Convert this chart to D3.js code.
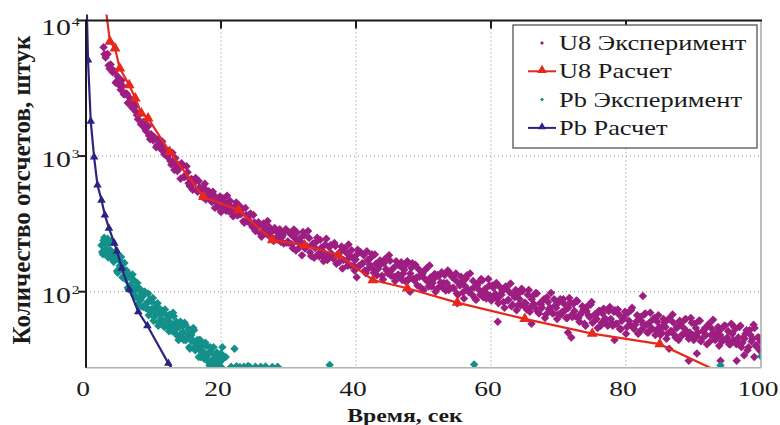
<!DOCTYPE html>
<html>
<head>
<meta charset="utf-8">
<script src="https://cdn.jsdelivr.net/npm/d3@7"></script>
<style>
  body { margin: 0; background: #fff; }
  text { font-family: "Liberation Serif", "Times New Roman", serif; fill: #1a1a1a; }
</style>
</head>
<body>
<div id="visual"></div>
<script>
// U8 experiment: [time, count]
const u8Exp = [
[2.6,6360],[2.9,5330],[3.2,5670],[3.5,4400],[3.8,4400],[4.1,4200],[4.4,3470],[4.7,3870],[5.0,3300],[5.3,3610],
[5.6,2860],[5.9,2890],[6.2,2460],[6.5,2680],[6.8,2290],[7.1,2450],[7.4,2120],[7.7,1870],[8.0,2090],[8.3,1710],
[8.6,1790],[8.9,1530],[9.2,1670],[9.5,1330],[9.8,1390],[10.1,1370],[10.4,1160],[10.7,1330],[11.0,1150],[11.3,1280],
[11.6,1030],[11.9,1060],[12.2,1090],[12.5,920],[12.8,1060],[13.1,790],[13.4,855],[13.7,860],[14.0,680],[14.3,840],
[14.6,705],[14.9,840],[15.2,630],[15.5,670],[15.8,565],[16.1,665],[16.4,560],[16.7,655],[17.0,565],[17.3,500],
[17.6,625],[17.9,500],[18.2,550],[18.5,470],[18.8,545],[19.1,415],[19.4,462],[19.7,480],[20.0,387],[20.3,488],
[20.6,420],[20.9,510],[21.2,390],[21.5,422],[21.8,360],[22.1,430],[22.4,366],[22.7,433],[23.0,376],[23.3,331],
[23.6,415],[23.9,330],[24.2,365],[24.5,313],[24.8,368],[25.1,280],[25.4,308],[25.7,316],[26.0,254],[26.3,319],
[26.6,275],[26.9,332],[27.2,255],[27.5,275],[27.8,236],[28.1,282],[28.4,243],[28.7,289],[29.0,252],[29.3,227],
[29.6,289],[29.9,234],[30.2,273],[30.5,224],[30.8,287],[31.1,201],[31.4,234],[31.7,248],[32.0,186],[32.3,261],
[32.6,214],[32.9,280],[33.2,195],[33.5,220],[33.8,178],[34.1,232],[34.4,190],[34.7,241],[35.0,200],[35.3,176],
[35.6,246],[35.9,184],[36.2,220],[36.5,180],[36.8,229],[37.1,161],[37.4,187],[37.7,198],[38.0,148],[38.3,208],
[38.6,170],[38.9,223],[39.2,156],[39.5,177],[39.8,143],[40.1,187],[40.4,154],[40.7,195],[41.0,162],[41.3,143],
[41.6,199],[41.9,149],[42.2,178],[42.5,147],[42.8,188],[43.1,132],[43.4,154],[43.7,164],[44.0,123],[44.3,174],
[44.6,142],[44.9,186],[45.2,131],[45.5,149],[45.8,120],[46.1,158],[46.4,129],[46.7,165],[47.0,136],[47.3,120],
[47.6,168],[47.9,126],[48.2,150],[48.5,124],[48.8,158],[49.1,111],[49.4,129],[49.7,137],[50.0,103],[50.3,145],
[50.6,119],[50.9,156],[51.2,109],[51.5,124],[51.8,100],[52.1,133],[52.4,109],[52.7,139],[53.0,116],[53.3,102],
[53.6,143],[53.9,107],[54.2,129],[54.5,106],[54.8,136],[55.1,95],[55.4,111],[55.7,118],[56.0,89],[56.3,125],
[56.6,103],[56.9,136],[57.2,95],[57.5,108],[57.8,87],[58.1,116],[58.4,95],[58.7,121],[59.0,100],[59.3,89],
[59.6,124],[59.9,93],[60.2,111],[60.5,91],[60.8,116],[61.1,82],[61.4,95],[61.7,101],[62.0,76],[62.3,107],
[62.6,87],[62.9,115],[63.2,80],[63.5,91],[63.8,73],[64.1,97],[64.4,79],[64.7,101],[65.0,83],[65.3,74],
[65.6,103],[65.9,77],[66.2,93],[66.5,76],[66.8,97],[67.1,69],[67.4,80],[67.7,86],[68.0,64],[68.3,91],
[68.6,74],[68.9,98],[69.2,69],[69.5,79],[69.8,63],[70.1,84],[70.4,68],[70.7,88],[71.0,73],[71.3,64],
[71.6,90],[71.9,67],[72.2,81],[72.5,66],[72.8,85],[73.1,60],[73.4,70],[73.7,74],[74.0,56],[74.3,78],
[74.6,65],[74.9,84],[75.2,60],[75.5,67],[75.8,54],[76.1,72],[76.4,59],[76.7,75],[77.0,63],[77.3,56],
[77.6,77],[77.9,59],[78.2,71],[78.5,58],[78.8,74],[79.1,53],[79.4,61],[79.7,65],[80.0,49],[80.3,70],
[80.6,57],[80.9,76],[81.2,53],[81.5,60],[81.8,49],[82.1,65],[82.4,53],[82.7,68],[83.0,57],[83.3,50],
[83.6,70],[83.9,53],[84.2,64],[84.5,52],[84.8,67],[85.1,48],[85.4,55],[85.7,59],[86.0,45],[86.3,63],
[86.6,51],[86.9,68],[87.2,48],[87.5,54],[87.8,44],[88.1,58],[88.4,48],[88.7,62],[89.0,51],[89.3,45],
[89.6,64],[89.9,48],[90.2,58],[90.5,47],[90.8,61],[91.1,43],[91.4,51],[91.7,54],[92.0,41],[92.3,58],
[92.6,48],[92.9,62],[93.2,44],[93.5,50],[93.8,40],[94.1,53],[94.4,44],[94.7,56],[95.0,46],[95.3,41],
[95.6,58],[95.9,44],[96.2,53],[96.5,43],[96.8,55],[97.1,39],[97.4,46],[97.7,49],[98.0,37],[98.3,52],
[98.6,43],[98.9,57],[99.2,40],[99.5,46],[99.8,37],
[35.2,168],[40.1,128],[48.0,100],[55.0,82],[61.0,60],[66.0,58],[71.4,50],[71.9,46],[78.3,44],[82.5,93],
[86.4,38],[89.3,31],[90.5,35],[94.0,31],[96.4,31],[97.5,34],[99.0,33]
];

// U8 experiment, interleaved readings
const u8ExpMid = [
[2.75,5630],[3.05,5600],[3.35,4660],[3.65,4730],[3.95,4150],[4.25,4200],[4.55,3550],[4.85,3580],[5.15,3080],[5.45,3290],
[5.75,2860],[6.05,2880],[6.35,2490],[6.65,2550],[6.95,2250],[7.25,2310],[7.55,2010],[7.85,2020],[8.15,1720],[8.45,1780],
[8.75,1590],[9.05,1630],[9.35,1410],[9.65,1450],[9.95,1310],[10.25,1360],[10.55,1200],[10.85,1250],[11.15,1120],[11.45,1160],
[11.75,1050],
[12.05,989],[12.35,1049],[12.65,865],[12.95,932],[13.25,966],[13.55,777],[13.85,813],[14.15,884],[14.45,703],[14.75,708],
[15.05,760],[15.35,601],[15.65,678],[15.95,624],[16.25,689],[16.55,545],[16.85,589],[17.15,540],[17.45,585],[17.75,479],
[18.05,543],[18.35,497],[18.65,458],[18.95,514],[19.25,465],[19.55,422],[19.85,503],[20.15,429],[20.45,467],[20.75,396],
[21.05,441],[21.35,467],[21.65,385],[21.95,410],[22.25,454],[22.55,367],[22.85,375],[23.15,407],[23.45,323],[23.75,367],
[24.05,340],[24.35,377],[24.65,300],[24.95,324],[25.25,299],[25.55,325],[25.85,267],[26.15,307],[26.45,285],[26.75,266],
[27.05,304],[27.35,275],[27.65,248],[27.95,295],[28.25,252],[28.55,275],[28.85,233],[29.15,261],[29.45,278],[29.75,230],
[30.05,230],[30.35,264],[30.65,209],[30.95,248],[31.25,273],[31.55,210],[31.85,233],[32.15,276],[32.45,208],[32.75,216],
[33.05,249],[33.35,183],[33.65,228],[33.95,210],[34.25,250],[34.55,182],[34.85,211],[35.15,193],[35.45,223],[35.75,171],
[36.05,213],[36.35,191],[36.65,175],[36.95,217],[37.25,188],[37.55,166],[37.85,215],[38.15,171],[38.45,196],[38.75,155],
[39.05,183],[39.35,202],[39.65,156],[39.95,173],[40.25,204],[40.55,155],[40.85,161],[41.15,186],[41.45,137],[41.75,171],
[42.05,158],[42.35,189],[42.65,138],[42.95,161],[43.25,147],[43.55,170],[43.85,131],[44.15,163],[44.45,147],[44.75,136],
[45.05,169],[45.35,146],[45.65,129],[45.95,168],[46.25,134],[46.55,154],[46.85,122],[47.15,145],[47.45,159],[47.75,122],
[48.05,136],[48.35,162],[48.65,121],[48.95,127],[49.25,147],[49.55,108],[49.85,135],[50.15,125],[50.45,149],[50.75,109],
[51.05,127],[51.35,116],[51.65,135],[51.95,104],[52.25,130],[52.55,117],[52.85,107],[53.15,133],[53.45,116],[53.75,103],
[54.05,135],[54.35,107],[54.65,123],[54.95,97],[55.25,115],[55.55,129],[55.85,99],[56.15,110],[56.45,132],[56.75,99],
[57.05,104],[57.35,120],[57.65,89],[57.95,111],[58.25,103],[58.55,124],[58.85,91],[59.15,105],[59.45,96],[59.75,111],
[60.05,86],[60.35,107],[60.65,96],[60.95,88],[61.25,109],[61.55,95],[61.85,84],[62.15,109],[62.45,86],[62.75,99],
[63.05,78],[63.35,94],[63.65,103],[63.95,79],[64.25,88],[64.55,105],[64.85,79],[65.15,82],[65.45,95],[65.75,71],
[66.05,88],[66.35,81],[66.65,98],[66.95,71],[67.25,82],[67.55,76],[67.85,88],[68.15,68],[68.45,84],[68.75,76],
[69.05,70],[69.35,88],[69.65,76],[69.95,68],[70.25,88],[70.55,71],[70.85,81],[71.15,64],[71.45,76],[71.75,84],
[72.05,65],[72.35,72],[72.65,86],[72.95,64],[73.25,68],[73.55,78],[73.85,58],[74.15,72],[74.45,67],[74.75,80],
[75.05,59],[75.35,68],[75.65,63],[75.95,72],[76.25,56],[76.55,69],[76.85,63],[77.15,58],[77.45,72],[77.75,63],
[78.05,56],[78.35,73],[78.65,58],[78.95,68],[79.25,53],[79.55,63],[79.85,71],[80.15,55],[80.45,61],[80.75,73],
[81.05,55],[81.35,57],[81.65,67],[81.95,50],[82.25,61],[82.55,57],[82.85,69],[83.15,50],[83.45,59],[83.75,54],
[84.05,63],[84.35,48],[84.65,60],[84.95,55],[85.25,50],[85.55,63],[85.85,55],[86.15,49],[86.45,63],[86.75,51],
[87.05,59],[87.35,46],[87.65,55],[87.95,61],[88.25,48],[88.55,54],[88.85,63],[89.15,48],[89.45,50],[89.75,59],
[90.05,44],[90.35,54],[90.65,50],[90.95,61],[91.25,45],[91.55,52],[91.85,48],[92.15,56],[92.45,43],[92.75,53],
[93.05,48],[93.35,45],[93.65,55],[93.95,48],[94.25,43],[94.55,56],[94.85,44],[95.15,51],[95.45,41],[95.75,49],
[96.05,55],[96.35,41],[96.65,46],[96.95,56],[97.25,42],[97.55,45],[97.85,52],[98.15,39],[98.45,48],[98.75,45],
[99.05,54],[99.35,40],[99.65,46],[99.95,43]
];

// U8 calculation
const u8Calc = [
[2.9,12500],[3.55,6980],[4.3,6230],[5.0,4440],[6.4,3340],[7.3,2670],[8.2,2065],[9.2,1900],[12.4,1076],
[17.4,500],[22.6,399],[27.6,240],[32.4,220],[37.4,186],[42.5,122],[47.6,106],[55,83],[65,63],[75,49],[85,41],[95,24]
];

// Pb experiment
const pbExp = [
[2.3,220],[2.5,189],[2.7,250],[2.9,205],[3.1,221],[3.3,179],[3.5,234],[3.7,190],[3.9,232],[4.1,166],
[4.3,178],[4.5,184],[4.7,138],[4.9,179],[5.1,146],[5.3,164],[5.5,127],[5.7,163],[5.9,123],[6.1,131],
[6.3,104],[6.5,133],[6.7,108],[6.9,134],[7.1,96],[7.3,104],[7.5,108],[7.7,81],[7.9,106],[8.1,87],
[8.3,98],[8.5,77],[8.7,100],[8.9,77],[9.1,83],[9.3,67],[9.5,88],[9.7,72],[9.9,90],[10.1,65],
[10.3,71],[10.5,75],[10.7,56],[10.9,75],[11.1,63],[11.3,72],[11.5,56],[11.7,74],[11.9,58],[12.1,63],
[12.3,51],[12.5,67],[12.7,56],[12.9,70],[13.1,50],[13.3,55],[13.5,58],[13.7,44],[13.9,59],[14.1,49],
[14.3,56],[14.5,44],[14.7,57],[14.9,45],[15.1,48],[15.3,39],[15.5,52],[15.7,43],[15.9,54],[16.1,39],
[16.3,42],[16.5,44],[16.7,33],[16.9,44],[17.1,36],[17.3,41],[17.5,32],[17.7,42],[17.9,33],[18.1,35],
[18.3,28.5],[18.5,38],[18.7,31],[18.9,39],[19.1,28.4],[19.3,31],[19.5,33],[19.7,25],[19.9,33],[20.1,27.6],
[20.3,32],[20.5,25],[20.7,33],[20.9,26],[20.2,39],[22.0,38],
[21.5,28],[22.3,28.2],[22.8,27.8],[23.4,28],[24.0,28.3],[24.3,27.8],[25.1,28],[25.9,27.9],[26.6,28.1],
[27.6,27.8],[28.4,28],[36.1,28.8],[57.5,29],[94.0,28.6],[100.0,33.4]
];

// Pb experiment, interleaved readings
const pbExpMid = [
[2.4,196],[2.6,238],[2.8,192],[3.0,227],[3.2,246],[3.4,186],[3.6,203],[3.8,235],[4.0,172],[4.2,176],
[4.4,198],[4.6,142],[4.8,173],[5.0,155],[5.2,180],[5.4,128],[5.6,145],[5.8,128],[6.0,143],[6.2,107],
[6.4,129],[6.6,113],[6.8,101],[7.0,123],[7.2,105],[7.4,91],[7.6,116],[7.8,90],[8.0,101],[8.2,78],
[8.4,92],[8.6,100],[8.8,76],[9.0,83],[9.2,97],[9.4,72],[9.6,74],[9.8,84],[10.0,61],[10.2,76],
[10.4,70],[10.6,82],[10.8,59],[11.0,68],[11.2,62],[11.4,72],[11.6,55],[11.8,68],[12.0,60],[12.2,55],
[12.4,68],[12.6,58.5],[12.8,51],[13.0,66],[13.2,52],[13.4,60],[13.6,47],[13.8,55],[14.0,60],[14.2,46],
[14.4,50.5],[14.6,59],[14.8,44],[15.0,46],[15.2,53],[15.4,38],[15.6,48],[15.8,44],[16.0,52],[16.2,37],
[16.4,43],[16.6,38.5],[16.8,44],[17.0,33],[17.2,40.5],[17.4,36],[17.6,32.5],[17.8,40],[18.0,34.5],[18.2,30],
[18.4,39],[18.6,31],[18.8,35],[19.0,27.6],[19.2,32.5],[19.4,35.6],[19.6,27.2],[19.8,30],[20.0,35]
];

// Pb calculation
const pbCalc = [
[0.1,13000],[0.3,5110],[0.7,1810],[1.2,984],[1.7,611],[2.3,473],[2.8,367],[3.4,294],[4.2,228],
[4.6,199],[5.3,149],[6.4,104],[7.75,71],[9.1,56],[12.2,29.6],[13.5,24]
];

const xTicks = [0, 20, 40, 60, 80, 100];
const yTicks = [100, 1000, 10000];
const yTickPowers = ["2", "3", "4"];
const legendLabels = ["U8 Эксперимент", "U8 Расчет", "Pb Эксперимент", "Pb Расчет"];

const COLORS = {
    u8Exp: "#9d1e80",
    u8Calc: "#e6281d",
    pbExp: "#13908a",
    pbCalc: "#2b2382"
};

const W = 780, H = 425;
const margin = {top: 20.5, right: 19, bottom: 57.3, left: 86};
const width = W - margin.left - margin.right,
      height = H - margin.top - margin.bottom;
const FONT = "'Liberation Serif', 'Times New Roman', serif";

const svg = d3.select("#visual").append("svg")
    .attr("width", W)
    .attr("height", H);

const g = svg.append("g")
    .attr("transform", "translate(" + margin.left + "," + margin.top + ")");

const x = d3.scaleLinear().domain([0, 100]).range([0, width]);
const y = d3.scaleLog().domain([27.5, 10000]).range([height, 0]);

// clip (calc lines poke a little above the top frame like the original)
svg.append("defs").append("clipPath").attr("id", "plotclip")
    .append("rect")
    .attr("x", 0).attr("y", -6)
    .attr("width", width).attr("height", height + 6);

// grid
g.selectAll(".vgrid")
    .data(xTicks.filter(d => d > 0 && d < 100))
    .enter().append("line")
    .attr("x1", d => x(d)).attr("x2", d => x(d))
    .attr("y1", 0).attr("y2", height)
    .style("stroke", "#8a8a8a")
    .style("stroke-width", 1)
    .style("stroke-dasharray", "1,3");

g.selectAll(".hgrid")
    .data(yTicks.filter(d => d < 10000))
    .enter().append("line")
    .attr("x1", 0).attr("x2", width)
    .attr("y1", d => y(d)).attr("y2", d => y(d))
    .style("stroke", "#8a8a8a")
    .style("stroke-width", 1)
    .style("stroke-dasharray", "1,3");

const plot = g.append("g").attr("clip-path", "url(#plotclip)");

const diamond = d3.symbol().type(d3.symbolSquare).size(36);
const triBig = d3.symbol().type(d3.symbolTriangle).size(52);
const triSmall = d3.symbol().type(d3.symbolTriangle).size(32);

function drawPoints(data, color) {
    plot.append("g").selectAll("path")
        .data(data)
        .enter().append("path")
        .attr("d", diamond)
        .attr("transform", d => "translate(" + x(d[0]) + "," + y(d[1]) + ") rotate(45)")
        .style("fill", color);
}

drawPoints(u8Exp.concat(u8ExpMid), COLORS.u8Exp);
drawPoints(pbExp.concat(pbExpMid), COLORS.pbExp);

// calculations
const line = d3.line().x(d => x(d[0])).y(d => y(d[1]));

function drawCalc(data, color, sym) {
    plot.append("path")
        .datum(data)
        .attr("d", line)
        .style("fill", "none")
        .style("stroke", color)
        .style("stroke-width", 2.2);
    plot.append("g").selectAll("path")
        .data(data)
        .enter().append("path")
        .attr("d", sym)
        .attr("transform", d => "translate(" + x(d[0]) + "," + y(d[1]) + ")")
        .style("fill", color);
}

drawCalc(u8Calc, COLORS.u8Calc, triBig);
drawCalc(pbCalc, COLORS.pbCalc, triSmall);

// frame
g.append("line").attr("x1", 0).attr("x2", width).attr("y1", height).attr("y2", height)
    .style("stroke", "#b4b4b4").style("stroke-width", 1.5);
g.append("line").attr("x1", width).attr("x2", width).attr("y1", 0).attr("y2", height)
    .style("stroke", "#a8a8a8").style("stroke-width", 1.5);
g.append("line").attr("x1", -1).attr("x2", width + 1).attr("y1", 0).attr("y2", 0)
    .style("stroke", "#1a1a1a").style("stroke-width", 2);
g.append("line").attr("x1", 0).attr("x2", 0).attr("y1", 0).attr("y2", height)
    .style("stroke", "#1a1a1a").style("stroke-width", 2);

// ticks: top axis inward, left axis outward
g.selectAll(".ttick")
    .data(xTicks.filter(d => d > 0 && d < 100))
    .enter().append("line")
    .attr("x1", d => x(d)).attr("x2", d => x(d))
    .attr("y1", 0).attr("y2", 8)
    .style("stroke", "#1a1a1a").style("stroke-width", 2);

g.selectAll(".ltick")
    .data(yTicks)
    .enter().append("line")
    .attr("x1", -8).attr("x2", 0)
    .attr("y1", d => y(d)).attr("y2", d => y(d))
    .style("stroke", "#1a1a1a").style("stroke-width", 2);

// x tick labels
g.selectAll(".xlab")
    .data(xTicks)
    .enter().append("text")
    .attr("transform", d => "translate(" + (x(d) - 3) + "," + (height + 28) + ") scale(1.25,1)")
    .attr("text-anchor", "middle")
    .style("font-family", FONT)
    .style("font-size", "22px")
    .text(d => d);

// y tick labels 10^n
const ylab = g.selectAll(".ylab")
    .data(yTicks)
    .enter().append("g")
    .attr("transform", d => "translate(-15," + Math.max(y(d) + 11, 14) + ") scale(1.3,1)");

ylab.append("text")
    .attr("text-anchor", "end")
    .style("font-family", FONT)
    .style("font-size", "23px")
    .text("10");

ylab.append("text")
    .attr("x", 0.5)
    .attr("y", -9)
    .style("font-family", FONT)
    .style("font-size", "12px")
    .text((d, i) => yTickPowers[i]);

// axis titles
svg.append("text")
    .attr("transform", "translate(405,422) scale(1.25,1)")
    .attr("text-anchor", "middle")
    .style("font-family", FONT)
    .style("font-size", "19px")
    .style("font-weight", "bold")
    .text("Время, сек");

svg.append("text")
    .attr("transform", "translate(30,190) rotate(-90)")
    .attr("text-anchor", "middle")
    .style("font-family", FONT)
    .style("font-size", "25px")
    .style("font-weight", "bold")
    .text("Количество отсчетов, штук");

// legend
const lg = svg.append("g").attr("transform", "translate(513,25)");
lg.append("rect")
    .attr("width", 244).attr("height", 123)
    .style("fill", "#fff")
    .style("stroke", "#555")
    .style("stroke-width", 1.3);

const legendColors = [COLORS.u8Exp, COLORS.u8Calc, COLORS.pbExp, COLORS.pbCalc];

const rows = lg.selectAll(".row")
    .data(legendLabels)
    .enter().append("g")
    .attr("transform", (d, i) => "translate(0," + (18 + i * 28.3) + ")");

rows.each(function (d, i) {
    const r = d3.select(this);
    const col = legendColors[i];
    if (i % 2 === 0) {
        r.append("path")
            .attr("d", d3.symbol().type(d3.symbolSquare).size(8))
            .attr("transform", "translate(29,0) rotate(45)")
            .style("fill", col);
    } else {
        r.append("line")
            .attr("x1", 15).attr("x2", 43)
            .style("stroke", col).style("stroke-width", 2);
        r.append("path")
            .attr("d", d3.symbol().type(d3.symbolTriangle).size(i === 1 ? 40 : 28))
            .attr("transform", "translate(29,-1)")
            .style("fill", col);
    }
});

rows.append("text")
    .attr("transform", "translate(46,7) scale(1.2,1)")
    .style("font-family", FONT)
    .style("font-size", "22px")
    .text(d => d);
</script>
</body>
</html>
